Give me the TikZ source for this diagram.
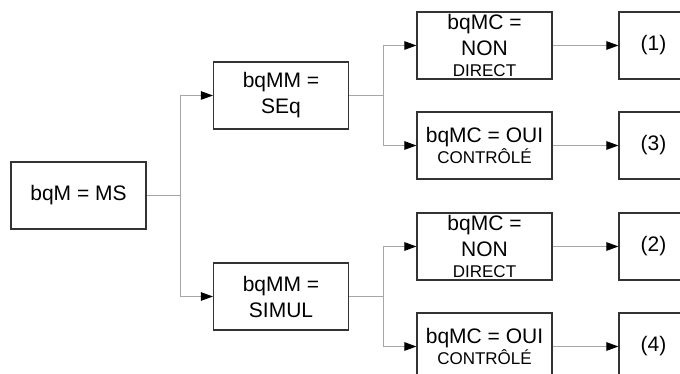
\documentclass[tikz,border=0pt]{standalone}
\usepackage{fontspec}
\setmainfont{Liberation Sans}
\usetikzlibrary{arrows.meta, positioning}
\newcommand{\bigtxt}{\fontsize{21}{26}\selectfont}
\newcommand{\smalltxt}{\fontsize{17}{21}\selectfont}

\begin{document}
\begin{tikzpicture}[x=1pt, y=-1pt,
    box/.style={draw=black!80, line width=1.1pt, minimum width=135pt,
        minimum height=67pt, inner sep=0pt, align=center, font=\bigtxt},
    result/.style={box, minimum width=69pt},
    link/.style={draw=black!35, line width=0.8pt,
        -{Triangle[length=12pt, width=8.5pt, color=black, fill=black]}}]
\path[use as bounding box] (0,0) rectangle (680,374);
\clip (0,0) rectangle (680,374);
% first and second level
\node[box] (ms) at (78.5,195.5) {bqM = MS};
\node[box] (seq) at (281,95.5) {bqMM =\\SEq};
\node[box] (simul) at (281,296.5) {bqMM =\\SIMUL};
% third level
\node[box] (non1) at (484.5,45.5) {bqMC =\\NON\\[-5pt]{\smalltxt DIRECT}};
\node[box] (oui1) at (484.5,145.5) {bqMC = OUI\\[-4.5pt]{\smalltxt CONTRÔLÉ}};
\node[box] (non2) at (484.5,246.5) {bqMC =\\NON\\[-5pt]{\smalltxt DIRECT}};
\node[box] (oui2) at (484.5,346.5) {bqMC = OUI\\[-4.5pt]{\smalltxt CONTRÔLÉ}};
% results
\node[result] (r1) at (653.5,45.5) {(1)};
\node[result] (r3) at (653.5,145.5) {(3)};
\node[result] (r2) at (653.5,246.5) {(2)};
\node[result] (r4) at (653.5,346.5) {(4)};
% connectors
\draw[link] (ms.east) -- ++(34,0) |- (seq.west);
\draw[link] (ms.east) -- ++(34,0) |- (simul.west);
\draw[link] (seq.east) -- ++(34,0) |- (non1.west);
\draw[link] (seq.east) -- ++(34,0) |- (oui1.west);
\draw[link] (simul.east) -- ++(34,0) |- (non2.west);
\draw[link] (simul.east) -- ++(34,0) |- (oui2.west);
\draw[link] (non1.east) -- (r1.west);
\draw[link] (oui1.east) -- (r3.west);
\draw[link] (non2.east) -- (r2.west);
\draw[link] (oui2.east) -- (r4.west);
\end{tikzpicture}
\end{document}
